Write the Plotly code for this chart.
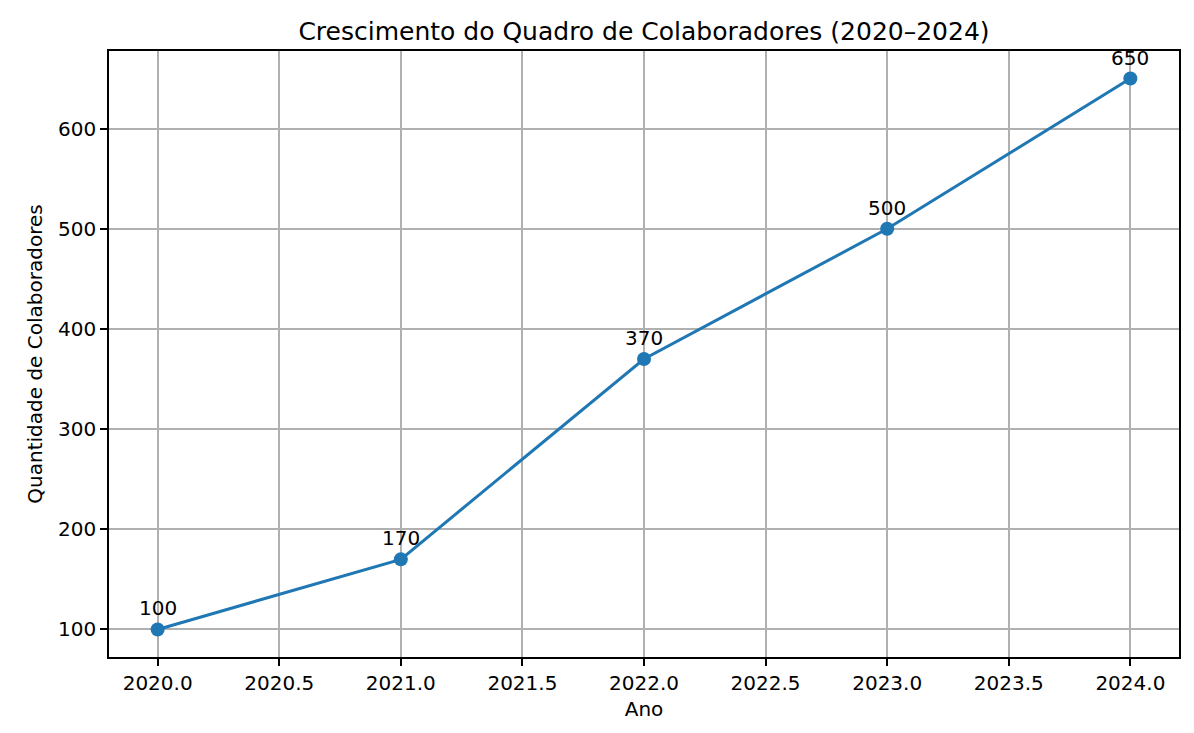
import plotly.graph_objects as go

anos = [2020, 2021, 2022, 2023, 2024]
colaboradores = [100, 170, 370, 500, 650]
x_ticks = [2020.0, 2020.5, 2021.0, 2021.5, 2022.0, 2022.5, 2023.0, 2023.5, 2024.0]
x_tick_labels = ["2020.0", "2020.5", "2021.0", "2021.5", "2022.0", "2022.5", "2023.0", "2023.5", "2024.0"]
y_ticks = [100, 200, 300, 400, 500, 600]
y_tick_labels = ["100", "200", "300", "400", "500", "600"]

titulo = "Crescimento do Quadro de Colaboradores (2020–2024)"
x_titulo = "Ano"
y_titulo = "Quantidade de Colaboradores"

FONT = "DejaVu Sans"
# page has an 8px body margin; figure sized/margined to compensate
W, H = 1186, 725
ML, MR, MT, MB = 101, 15, 43, 76
FS = 20

fig = go.Figure()
fig.add_trace(go.Scatter(
    x=anos, y=colaboradores, mode="lines+markers",
    line=dict(color="#1f77b4", width=3),
    marker=dict(color="#1f77b4", size=14),
    showlegend=False, hoverinfo="skip",
))

for xv, yv in zip(anos, colaboradores):
    fig.add_annotation(x=xv, y=yv, text=str(yv), showarrow=False,
                       xanchor="center", yanchor="bottom", yshift=7,
                       font=dict(family=FONT, size=FS, color="black"))

xmin, xmax = min(anos), max(anos)
ymin, ymax = min(colaboradores), max(colaboradores)
xpad = (xmax - xmin) * 0.05
ypad = (ymax - ymin) * 0.05

axis_common = dict(
    showgrid=True, gridcolor="#b0b0b0", gridwidth=1.6,
    showline=True, linecolor="black", linewidth=1.6, mirror=True,
    ticks="outside", ticklen=7, tickwidth=1.6, tickcolor="black",
    tickfont=dict(family=FONT, size=FS, color="black"),
    zeroline=False,
)

fig.update_xaxes(range=[xmin - xpad, xmax + xpad], tickmode="array",
                 tickvals=x_ticks, ticktext=x_tick_labels,
                 title=dict(text=x_titulo, font=dict(family=FONT, size=FS, color="black"), standoff=8),
                 **axis_common)
fig.update_yaxes(range=[ymin - ypad, ymax + ypad], tickmode="array",
                 tickvals=y_ticks, ticktext=y_tick_labels,
                 title=dict(text=y_titulo, font=dict(family=FONT, size=FS, color="black"), standoff=10),
                 **axis_common)

fig.update_layout(
    width=W, height=H,
    margin=dict(l=ML, r=MR, t=MT, b=MB),
    paper_bgcolor="white", plot_bgcolor="white",
    title=dict(text=titulo, x=(ML + (W - ML - MR) / 2) / W, xanchor="center",
               y=1 - 23 / H, yanchor="middle",
               font=dict(family=FONT, size=25, color="black")),
)

fig.write_html("out.html")
